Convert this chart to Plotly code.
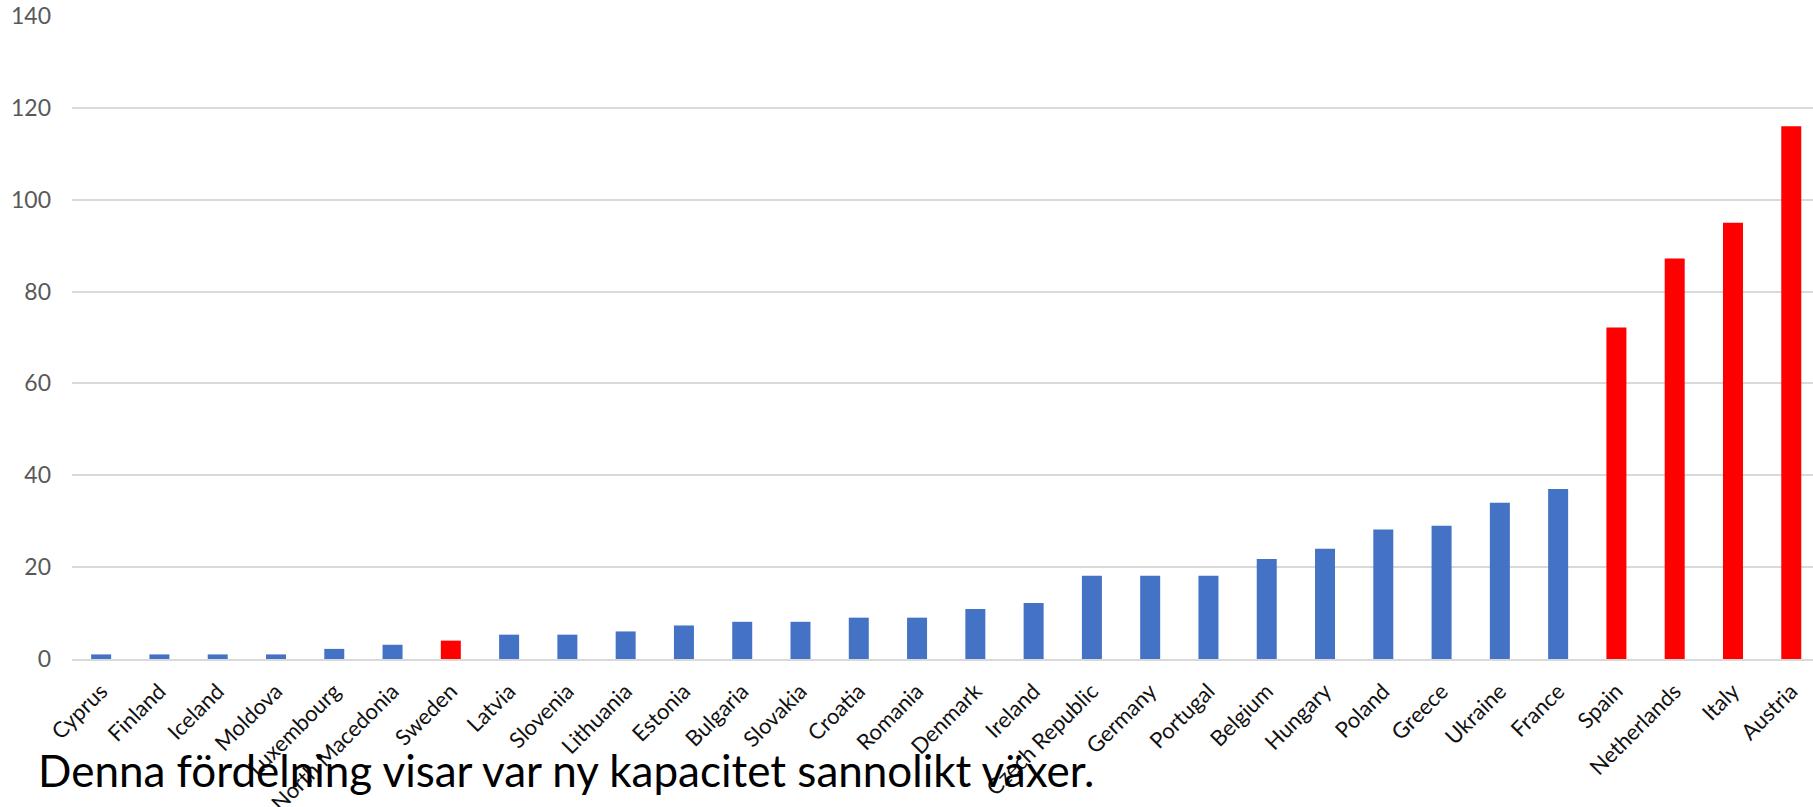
import plotly.graph_objects as go

countries = ["Cyprus", "Finland", "Iceland", "Moldova", "Luxembourg", "North Macedonia",
             "Sweden", "Latvia", "Slovenia", "Lithuania", "Estonia", "Bulgaria", "Slovakia",
             "Croatia", "Romania", "Denmark", "Ireland", "Czech Republic", "Germany",
             "Portugal", "Belgium", "Hungary", "Poland", "Greece", "Ukraine", "France",
             "Spain", "Netherlands", "Italy", "Austria"]
values = [1, 1, 1, 1, 2.2, 3.1, 4, 5.3, 5.3, 6, 7.3, 8.1, 8.1, 9, 9, 10.9, 12.2,
          18.1, 18.1, 18.1, 21.8, 24, 28.2, 29, 34, 37, 72.2, 87.2, 95, 116]
highlighted = ["Sweden", "Spain", "Netherlands", "Italy", "Austria"]
y_ticks = [0, 20, 40, 60, 80, 100, 120, 140]
caption = "Denna fördelning visar var ny kapacitet sannolikt växer."

BLUE = "#4472C4"
RED = "#FF0000"
colors = [RED if c in highlighted else BLUE for c in countries]

W, H = 1813, 807
left_px, top_px, zero_px = 72, 16, 659.3
bottom_px = H - zero_px
plot_w = W - left_px
plot_h = zero_px - top_px
band = 58.28
x_max = -0.5 + plot_w / band

fig = go.Figure(go.Bar(
    x=countries, y=values, marker=dict(color=colors, line=dict(width=0)),
    hoverinfo="x+y"
))

fig.update_layout(
    width=W, height=H,
    margin=dict(l=left_px, r=0, t=top_px, b=bottom_px, autoexpand=False),
    plot_bgcolor="white", paper_bgcolor="white",
    bargap=0.657,
    showlegend=False,
    font=dict(family="Lato, Open Sans, sans-serif"),
    xaxis=dict(
        type="category", range=[-0.5, x_max], tickangle=-45,
        tickfont=dict(size=22, color="#111111", family="Lato"),
        showgrid=False, showline=True, linecolor="#D9D9D9", linewidth=1.5,
        ticks="", ticklabelstandoff=9, fixedrange=True,
    ),
    yaxis=dict(
        range=[0, 140], tickvals=y_ticks, ticktext=[str(v) for v in y_ticks],
        tickfont=dict(size=23, color="#595959", family="Lato"),
        showgrid=True, gridcolor="#D9D9D9", gridwidth=1.5,
        zeroline=False, showline=False, ticks="", ticklabelstandoff=20,
        fixedrange=True,
    ),
    annotations=[dict(
        text=caption, xref="paper", yref="paper",
        x=(36 - left_px) / plot_w, y=-(798 - zero_px) / plot_h,
        xanchor="left", yanchor="bottom", showarrow=False,
        font=dict(size=44, color="black", family="Lato"),
    )],
)

fig.write_html("out.html", config={"displayModeBar": False},
               post_script="document.body.style.margin='0';")
